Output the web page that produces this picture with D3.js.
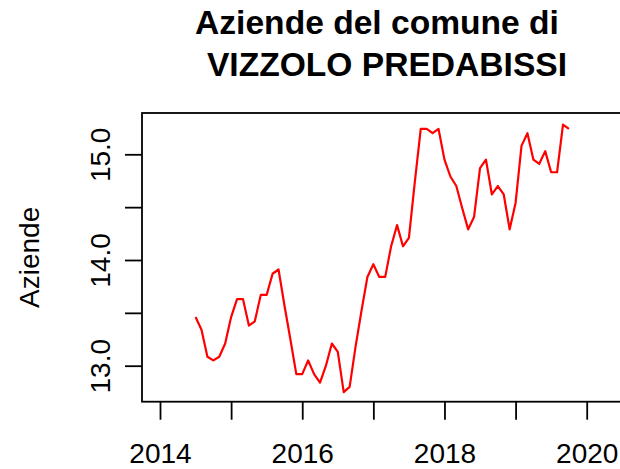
<!DOCTYPE html>
<html lang="it">
<head>
<meta charset="UTF-8">
<title>Aziende del comune di VIZZOLO PREDABISSI</title>
<script src="https://cdn.jsdelivr.net/npm/d3@7"></script>
<style>
  html, body { margin: 0; padding: 0; background: #fff; }
  svg { display: block; font-family: "Liberation Sans", Arial, sans-serif; }
</style>
</head>
<body>
<div id="chart"></div>
<script>
// serie mensile, come ts(start = c(2014, 7), frequency = 12)
var startYear = 2014, startMonth = 7, freq = 12;
var aziende = [
  13.46, 13.34, 13.085, 13.05, 13.085, 13.21, 13.46, 13.63, 13.63, 13.38,
  13.42, 13.67, 13.67, 13.87, 13.91, 13.57, 13.25, 12.92, 12.92, 13.05,
  12.92, 12.84, 13.00, 13.21, 13.13, 12.75, 12.80, 13.18, 13.52, 13.84,
  13.96, 13.84, 13.84, 14.13, 14.33, 14.13, 14.21, 14.74, 15.24, 15.24,
  15.20, 15.24, 14.95, 14.79, 14.70, 14.49, 14.29, 14.41, 14.87, 14.95,
  14.62, 14.70, 14.62, 14.29, 14.54, 15.08, 15.20, 14.95, 14.91, 15.03,
  14.83, 14.83, 15.28, 15.24
];
var xTicks = [2014, 2015, 2016, 2017, 2018, 2019, 2020];
var xLabels = [2014, 2016, 2018, 2020];      // R salta le etichette che si sovrappongono
var yTicks = [13, 13.5, 14, 14.5, 15];
var yLabels = [13, 14, 15];

var W = 620, H = 469;
var box = {left: 142, top: 113, right: 622, bottom: 401.7};

var svg = d3.select("#chart").append("svg")
  .attr("width", W).attr("height", H);

var x = d3.scaleLinear().domain([2014, 2020]).range([160, 586.7]);
var y = d3.scaleLinear().domain([13, 15]).range([365.7, 154.3]);

function tempo(i) { return startYear + (startMonth - 1) / freq + i / freq; }

// linea
var line = d3.line()
  .x(function(d, i){ return x(tempo(i)); })
  .y(function(d){ return y(d); });

svg.append("path")
  .datum(aziende)
  .attr("d", line)
  .attr("fill", "none")
  .attr("stroke", "#ff0000")
  .attr("stroke-width", 2.2)
  .attr("stroke-linejoin", "round");

// riquadro
svg.append("rect")
  .attr("x", box.left).attr("y", box.top)
  .attr("width", box.right - box.left).attr("height", box.bottom - box.top)
  .attr("fill", "none").attr("stroke", "#000").attr("stroke-width", 1.8);

// asse x
var gx = svg.append("g")
  .attr("transform", "translate(0," + box.bottom + ")")
  .call(d3.axisBottom(x).tickValues(xTicks).tickSize(18)
    .tickFormat(function(d){ return xLabels.indexOf(d) >= 0 ? d : ""; }));
gx.select(".domain").remove();
gx.selectAll("line").attr("stroke", "#000").attr("stroke-width", 1.8);
gx.selectAll("text")
  .attr("y", 61).attr("dy", null)
  .attr("fill", "#000")
  .style("font-size", "28px")
  .style("font-family", "'Liberation Sans', Arial, sans-serif");

// asse y
var gy = svg.append("g")
  .attr("transform", "translate(" + box.left + ",0)")
  .call(d3.axisLeft(y).tickValues(yTicks).tickSize(17)
    .tickFormat(function(d){ return yLabels.indexOf(d) >= 0 ? d3.format(".1f")(d) : ""; }));
gy.select(".domain").remove();
gy.selectAll("line").attr("stroke", "#000").attr("stroke-width", 1.8);
gy.selectAll("text")
  .attr("transform", "rotate(-90)")
  .attr("x", 0).attr("y", -32).attr("dy", null)
  .attr("text-anchor", "middle")
  .attr("fill", "#000")
  .style("font-size", "28px")
  .style("font-family", "'Liberation Sans', Arial, sans-serif");

// etichetta asse y
svg.append("text")
  .attr("transform", "translate(39," + ((box.top + box.bottom) / 2) + ") rotate(-90)")
  .attr("text-anchor", "middle")
  .style("font-size", "28px")
  .text("Aziende");

// titolo
var title = svg.append("text")
  .attr("text-anchor", "middle")
  .style("font-size", "33.6px")
  .style("font-weight", "bold");
title.append("tspan").attr("x", 377).attr("y", 34).text("Aziende del comune di");
title.append("tspan").attr("x", 387).attr("y", 76).text("VIZZOLO PREDABISSI");
</script>
</body>
</html>
